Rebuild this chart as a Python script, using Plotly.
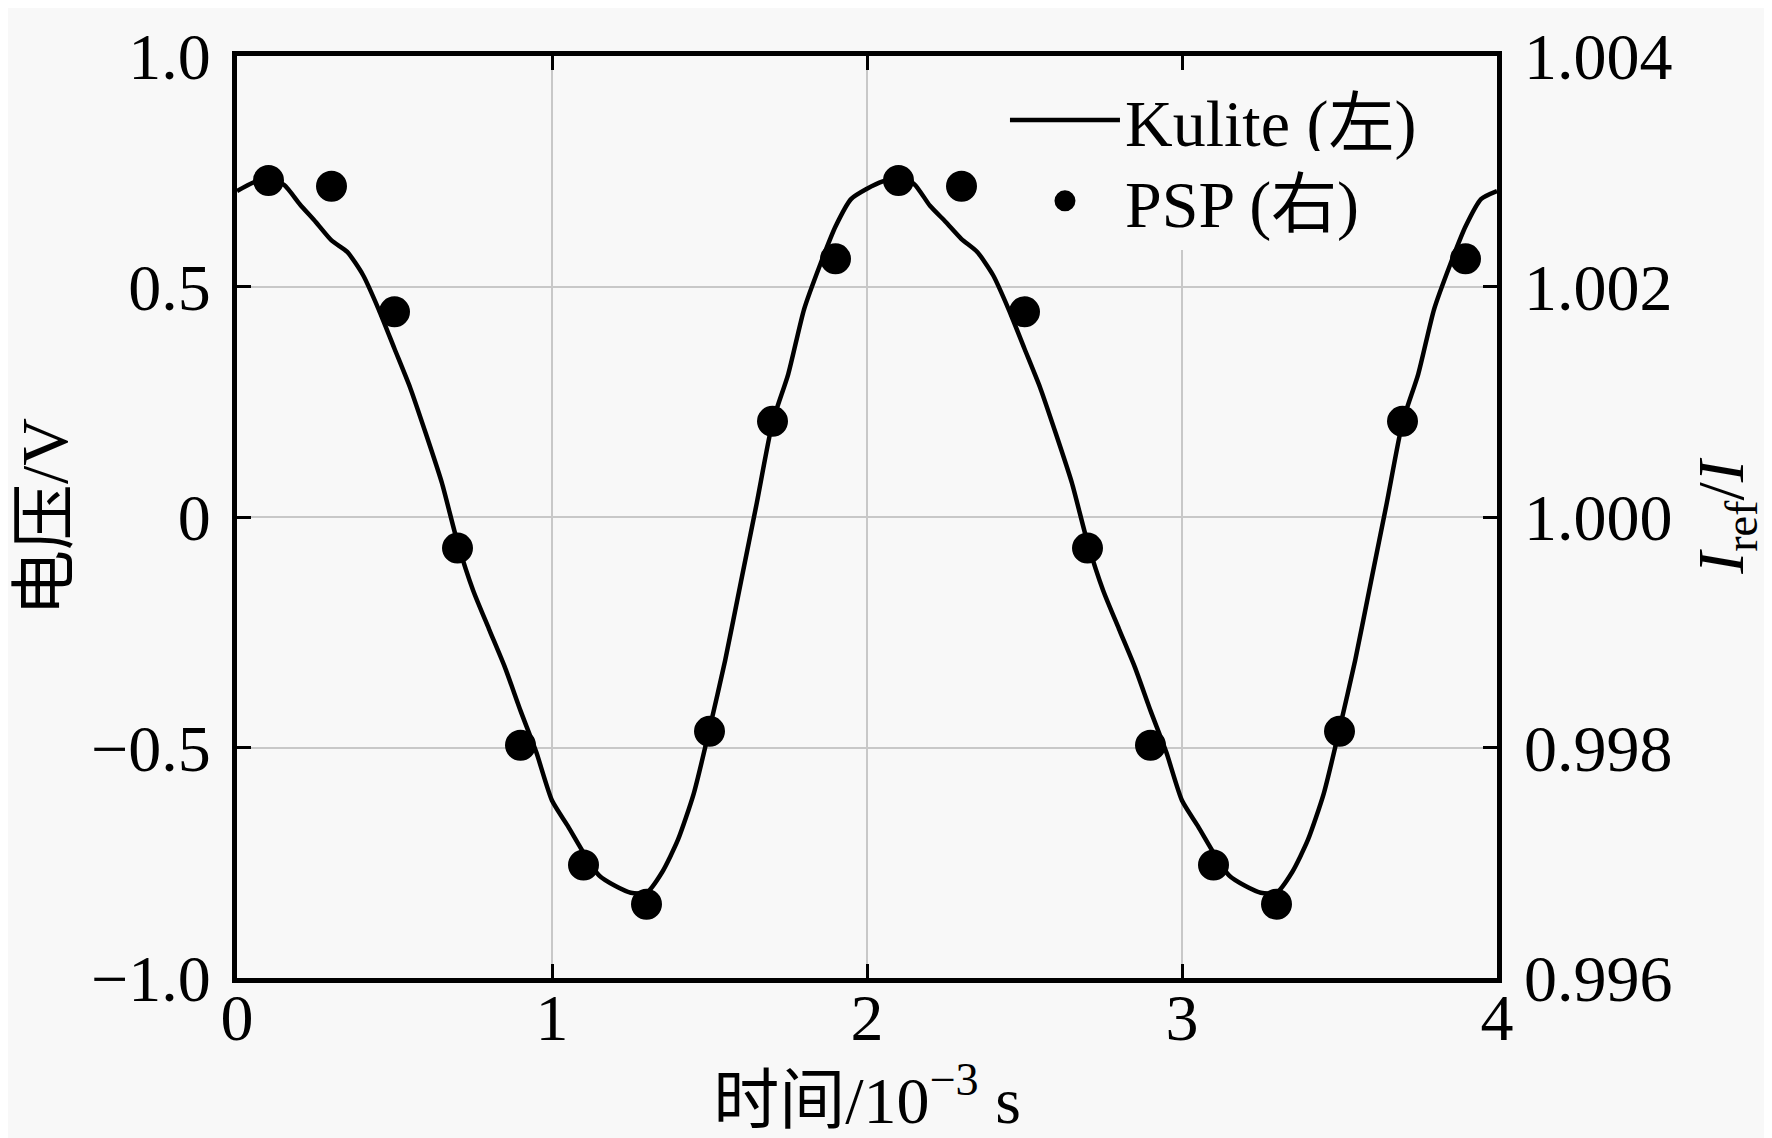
import plotly.graph_objects as go

# ---------------- data ----------------
kulite_t = [0.00, 0.05, 0.10, 0.15, 0.20, 0.25, 0.30, 0.35, 0.40, 0.45,
            0.50, 0.55, 0.60, 0.65, 0.70, 0.75, 0.80, 0.85, 0.90, 0.95,
            1.00, 1.05, 1.10, 1.15, 1.20, 1.25, 1.30, 1.35, 1.40, 1.45,
            1.50, 1.55, 1.60, 1.65, 1.70, 1.75, 1.80, 1.85, 1.90, 1.95,
            2.00, 2.05, 2.10, 2.15, 2.20, 2.25, 2.30, 2.35, 2.40, 2.45,
            2.50, 2.55, 2.60, 2.65, 2.70, 2.75, 2.80, 2.85, 2.90, 2.95,
            3.00, 3.05, 3.10, 3.15, 3.20, 3.25, 3.30, 3.35, 3.40, 3.45,
            3.50, 3.55, 3.60, 3.65, 3.70, 3.75, 3.80, 3.85, 3.90, 3.95,
            4.00]
kulite_v = [0.707, 0.725, 0.735, 0.720, 0.678, 0.640, 0.600, 0.575, 0.525, 0.450,
            0.365, 0.280, 0.180, 0.075, -0.055, -0.160, -0.243, -0.325, -0.420, -0.510,
            -0.615, -0.670, -0.728, -0.778, -0.800, -0.815, -0.815, -0.770, -0.700, -0.600,
            -0.460, -0.310, -0.140, 0.030, 0.205, 0.310, 0.450, 0.545, 0.630, 0.690,
            0.712, 0.728, 0.736, 0.722, 0.675, 0.640, 0.603, 0.575, 0.525, 0.450,
            0.365, 0.280, 0.180, 0.075, -0.055, -0.160, -0.243, -0.325, -0.420, -0.510,
            -0.615, -0.670, -0.728, -0.778, -0.800, -0.815, -0.815, -0.770, -0.700, -0.600,
            -0.460, -0.310, -0.140, 0.030, 0.205, 0.310, 0.450, 0.545, 0.630, 0.690,
            0.707]

psp_t = [0.1, 0.3, 0.5, 0.7, 0.9, 1.1, 1.3, 1.5, 1.7, 1.9,
         2.1, 2.3, 2.5, 2.7, 2.9, 3.1, 3.3, 3.5, 3.7, 3.9]
psp_v = [1.00292, 1.00287, 1.00178, 0.99973, 0.99802, 0.99698, 0.99664, 0.99814, 1.00083, 1.00224,
         1.00292, 1.00287, 1.00178, 0.99973, 0.99802, 0.99698, 0.99664, 0.99814, 1.00083, 1.00224]

x_ticks = [0, 1, 2, 3, 4]
x_labels = ["0", "1", "2", "3", "4"]
y_left_ticks = [-1.0, -0.5, 0.0, 0.5, 1.0]
y_left_labels = ["\u22121.0", "\u22120.5", "0", "0.5", "1.0"]
y_right_ticks = [0.996, 0.998, 1.000, 1.002, 1.004]
y_right_labels = ["0.996", "0.998", "1.000", "1.002", "1.004"]

# ---------------- style ----------------
FONT = "Liberation Serif, 'Noto Sans CJK SC'"
FS = 66
BG = "#f8f8f8"
GRID = "#c8c8c8"

fig = go.Figure()
fig.add_trace(go.Scatter(
    x=kulite_t, y=kulite_v, mode="lines", name="Kulite (左)",
    line=dict(color="black", width=4.5, shape="spline", smoothing=0.6),
    yaxis="y", legend="legend"))
fig.add_trace(go.Scatter(
    x=psp_t, y=psp_v, mode="markers", name="PSP (右)",
    marker=dict(color="black", size=26, line=dict(color="black", width=5)),
    yaxis="y2", legend="legend2"))

leg_common = dict(xanchor="left", yanchor="top", bgcolor=BG, borderwidth=0,
                  itemwidth=110, itemsizing="trace",
                  font=dict(family=FONT, size=FS, color="black"))

fig.update_layout(
    width=1772, height=1138,
    margin=dict(l=229, r=283, t=35, b=168),
    paper_bgcolor=BG, plot_bgcolor=BG,
    font=dict(family=FONT, size=FS, color="black"),
    showlegend=True,
    legend=dict(x=0.6095, y=0.9843, **leg_common),
    legend2=dict(x=0.6095, y=0.8965, **leg_common),
    xaxis=dict(
        range=[0, 4], tickvals=x_ticks, ticktext=x_labels,
        showgrid=True, gridcolor=GRID, gridwidth=2,
        zeroline=False, showline=True, linecolor="black", linewidth=5,
        mirror="ticks", ticks="inside", ticklen=14, tickwidth=3, tickcolor="black",
        ticklabelstandoff=-22,
        title=dict(text="时间/10<sup>\u22123</sup> s", standoff=24,
                   font=dict(family=FONT, size=FS))),
    yaxis=dict(
        range=[-1, 1], tickvals=y_left_ticks, ticktext=y_left_labels,
        showgrid=True, gridcolor=GRID, gridwidth=2,
        zeroline=False, showline=True, linecolor="black", linewidth=5,
        mirror="ticks", ticks="inside", ticklen=14, tickwidth=3, tickcolor="black",
        ticklabelstandoff=8, ticklabeloverflow="allow",
        title=dict(text="电压/V", standoff=6,
                   font=dict(family=FONT, size=FS))),
    yaxis2=dict(
        range=[0.996, 1.004], tickvals=y_right_ticks, ticktext=y_right_labels,
        overlaying="y", side="right", showgrid=False, zeroline=False,
        showline=False, ticks="inside", ticklen=14, tickwidth=3, tickcolor="black",
        ticklabelstandoff=26, ticklabeloverflow="allow",
        title=dict(text="<i>I</i><sub>ref</sub>/<i>I</i>", standoff=25,
                   font=dict(family=FONT, size=FS))),
)

fig.write_html("out.html")
